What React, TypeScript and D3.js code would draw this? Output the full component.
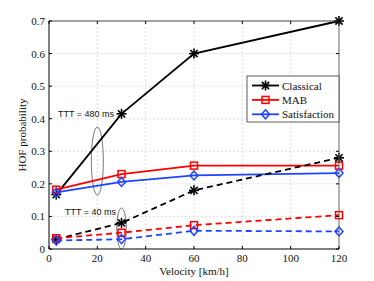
import React from "react";
import { scaleLinear, line } from "d3";

const velocity = [3, 30, 60, 120];
const classical480 = [0.167, 0.415, 0.6, 0.7];
const mab480 = [0.182, 0.23, 0.256, 0.256];
const sat480 = [0.174, 0.206, 0.226, 0.233];
const classical40 = [0.03, 0.08, 0.18, 0.28];
const mab40 = [0.033, 0.05, 0.073, 0.104];
const sat40 = [0.026, 0.03, 0.056, 0.054];

const xTicks = [0, 20, 40, 60, 80, 100, 120];
const yTicks = [0, 0.1, 0.2, 0.3, 0.4, 0.5, 0.6, 0.7];

const W = 374;
const H = 281;
const margin = { left: 49, right: 35, top: 21, bottom: 32 };

const x = scaleLinear().domain([0, 120]).range([margin.left, W - margin.right]);
const y = scaleLinear().domain([0, 0.7]).range([H - margin.bottom, margin.top]);

const BLACK = "#000";
const RED = "#ff0000";
const BLUE = "#1f45ff";

const serif = "Liberation Serif";
const sans = "Liberation Sans";

const Star = ({ cx, cy, color }) => {
  const r = 5;
  const d = r * 0.72;
  return (
    <g stroke={color} strokeWidth={1.6}>
      <line x1={cx - r} y1={cy} x2={cx + r} y2={cy} />
      <line x1={cx} y1={cy - r} x2={cx} y2={cy + r} />
      <line x1={cx - d} y1={cy - d} x2={cx + d} y2={cy + d} />
      <line x1={cx - d} y1={cy + d} x2={cx + d} y2={cy - d} />
    </g>
  );
};

const Square = ({ cx, cy, color }) => (
  <rect x={cx - 3.5} y={cy - 3.5} width={7} height={7} fill="none" stroke={color} strokeWidth={1.5} />
);

const Diamond = ({ cx, cy, color }) => (
  <path
    d={`M${cx},${cy - 4.5}L${cx + 4},${cy}L${cx},${cy + 4.5}L${cx - 4},${cy}Z`}
    fill="none"
    stroke={color}
    strokeWidth={1.5}
  />
);

const series = [
  { values: classical480, color: BLACK, Marker: Star, dash: null },
  { values: mab480, color: RED, Marker: Square, dash: null },
  { values: sat480, color: BLUE, Marker: Diamond, dash: null },
  { values: classical40, color: BLACK, Marker: Star, dash: "6,4" },
  { values: mab40, color: RED, Marker: Square, dash: "6,4" },
  { values: sat40, color: BLUE, Marker: Diamond, dash: "6,4" },
];

const legendItems = [
  { label: "Classical", color: BLACK, Marker: Star },
  { label: "MAB", color: RED, Marker: Square },
  { label: "Satisfaction", color: BLUE, Marker: Diamond },
];

export default function App() {
  const lineGen = line<number>()
    .x((_, i) => x(velocity[i]))
    .y((d) => y(d));

  const x0 = margin.left;
  const x1 = W - margin.right;
  const y0 = H - margin.bottom;
  const y1 = margin.top;

  const legX = 247;
  const legY = 76;

  return (
    <svg width={W} height={H} style={{ position: "absolute", left: 0, top: 0, background: "#fff" }}>
      {/* grid */}
      {xTicks.slice(1, -1).map((t) => (
        <line key={"gx" + t} x1={x(t)} x2={x(t)} y1={y0} y2={y1} stroke="#c8c8c8" strokeWidth={0.8} strokeDasharray="1.5,2.5" />
      ))}
      {yTicks.slice(1, -1).map((t) => (
        <line key={"gy" + t} x1={x0} x2={x1} y1={y(t)} y2={y(t)} stroke="#c8c8c8" strokeWidth={0.8} strokeDasharray="1.5,2.5" />
      ))}

      {/* ellipses */}
      <ellipse cx={x(20)} cy={y(0.27)} rx={6} ry={34} fill="none" stroke="#555" strokeWidth={0.8} />
      <ellipse cx={x(30)} cy={y(0.063)} rx={4.8} ry={20.5} fill="none" stroke="#555" strokeWidth={0.8} />
      <text x={58} y={117} fontFamily={sans} fontSize={9} fill="#111">TTT = 480 ms</text>
      <text x={65} y={215} fontFamily={sans} fontSize={9} fill="#111">TTT = 40 ms</text>

      {/* series */}
      {series.map((s, i) => (
        <g key={i}>
          <path d={lineGen(s.values) || ""} fill="none" stroke={s.color} strokeWidth={1.8} strokeDasharray={s.dash || undefined} />
          {s.values.map((v, j) => (
            <s.Marker key={j} cx={x(velocity[j])} cy={y(v)} color={s.color} />
          ))}
        </g>
      ))}

      {/* axes box */}
      <line x1={x0} x2={x1} y1={y1} y2={y1} stroke="#444" strokeWidth={1} />
      <line x1={x1} x2={x1} y1={y1} y2={y0} stroke="#666" strokeWidth={1} />
      <line x1={x0} x2={x1} y1={y0} y2={y0} stroke="#000" strokeWidth={1} />
      <line x1={x0} x2={x0} y1={y1} y2={y0} stroke="#000" strokeWidth={1} />

      {/* ticks */}
      {xTicks.map((t) => (
        <g key={"tx" + t}>
          <line x1={x(t)} x2={x(t)} y1={y0} y2={y0 - 3} stroke="#000" />
          <line x1={x(t)} x2={x(t)} y1={y1} y2={y1 + 3} stroke="#000" />
          <text x={x(t)} y={y0 + 13} textAnchor="middle" fontFamily={serif} fontSize={11} fill="#111">{t}</text>
        </g>
      ))}
      {yTicks.map((t) => (
        <g key={"ty" + t}>
          <line x1={x0} x2={x0 + 3} y1={y(t)} y2={y(t)} stroke="#000" />
          <line x1={x1} x2={x1 - 3} y1={y(t)} y2={y(t)} stroke="#000" />
          <text x={x0 - 4} y={y(t) + 4} textAnchor="end" fontFamily={serif} fontSize={11} fill="#111">{t === 0 ? "0" : t.toFixed(1)}</text>
        </g>
      ))}

      <text x={(x0 + x1) / 2} y={275} textAnchor="middle" fontFamily={serif} fontSize={11} fill="#111">Velocity [km/h]</text>
      <text transform={`translate(26,${(y0 + y1) / 2}) rotate(-90)`} textAnchor="middle" fontFamily={serif} fontSize={11} fill="#111">HOF probability</text>

      {/* legend */}
      <rect x={legX} y={legY} width={x1 - legX} height={46} fill="#fff" stroke="#333" strokeWidth={0.8} />
      {legendItems.map((it, i) => {
        const ly = legY + 9.5 + i * 14.4;
        return (
          <g key={it.label}>
            <line x1={legX + 5} x2={legX + 32} y1={ly} y2={ly} stroke={it.color} strokeWidth={1.8} />
            <it.Marker cx={legX + 18.5} cy={ly} color={it.color} />
            <text x={legX + 35} y={ly + 4} fontFamily={serif} fontSize={11} fill="#111">{it.label}</text>
          </g>
        );
      })}
    </svg>
  );
}
